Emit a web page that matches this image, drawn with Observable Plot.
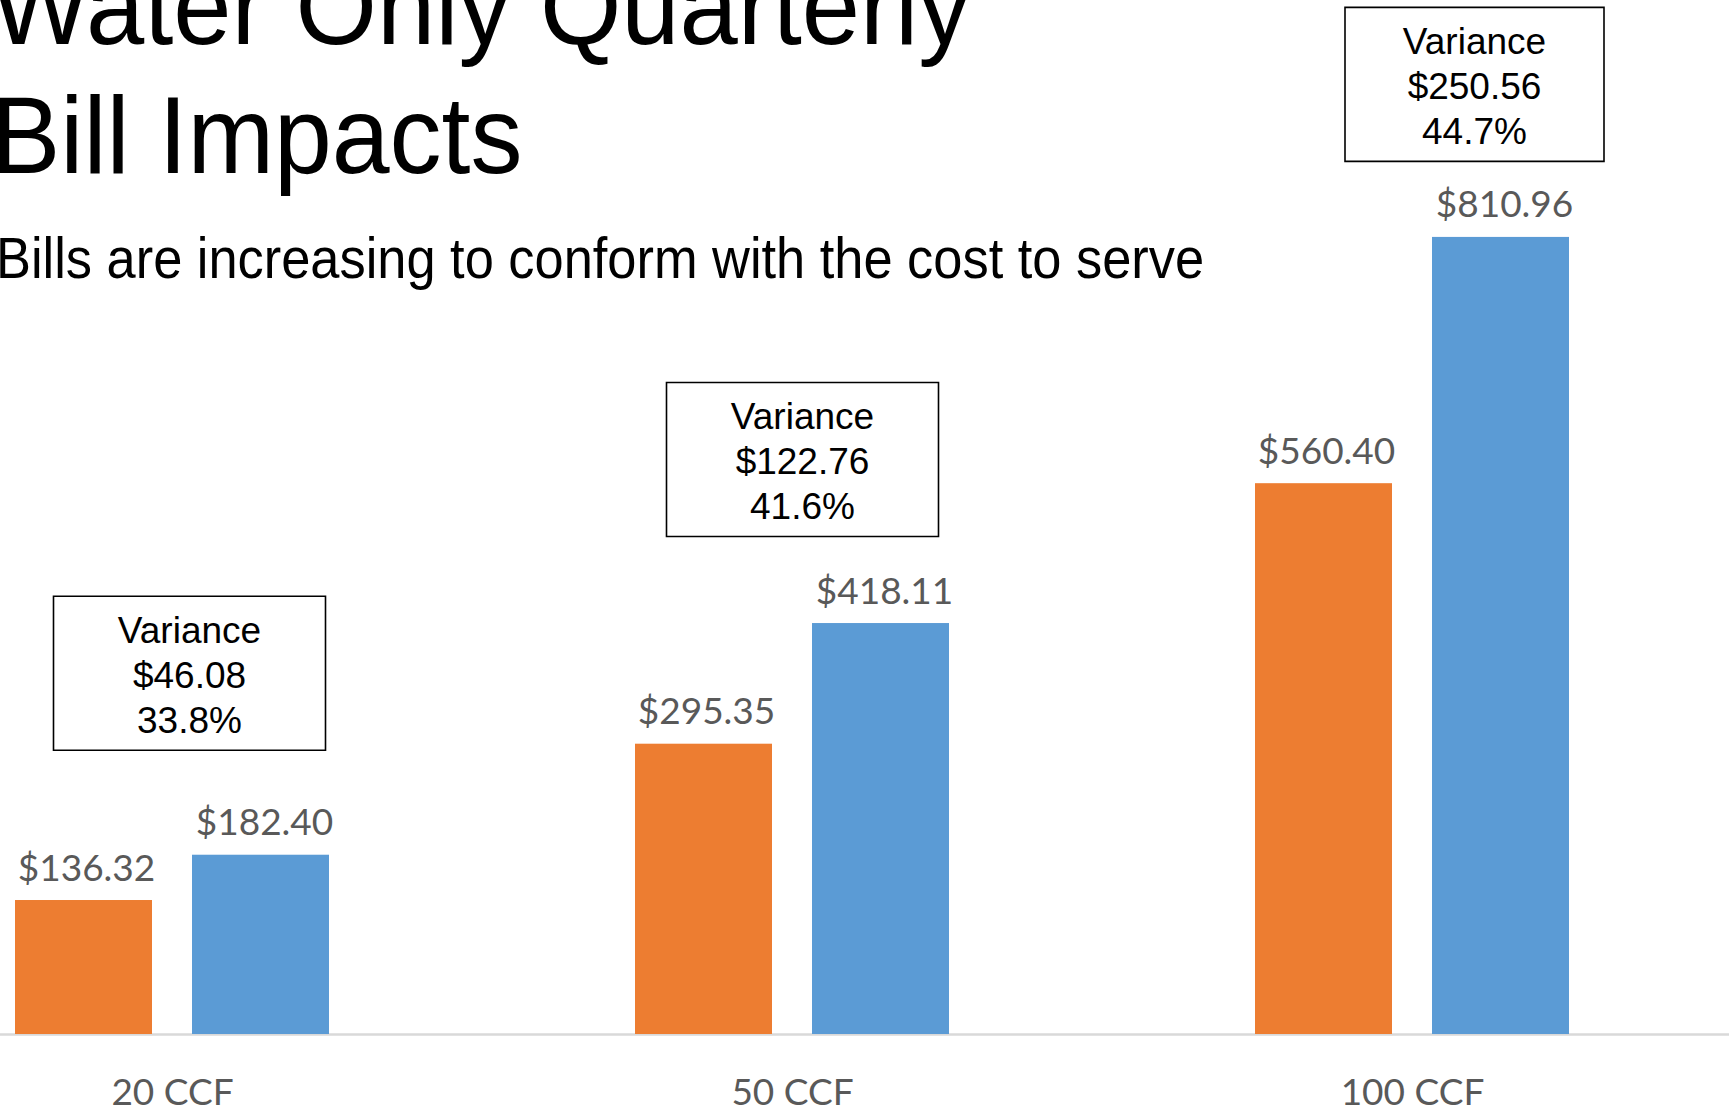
<!DOCTYPE html>
<html><head><meta charset="utf-8">
<script src="https://cdn.jsdelivr.net/npm/d3@7"></script>
<script src="https://cdn.jsdelivr.net/npm/@observablehq/plot@0.6"></script>
<style>
body{margin:0;background:#fff;overflow:hidden}
#wrap{position:relative;width:1729px;height:1110px;overflow:hidden;background:#fff}
#chart{position:absolute;left:0;top:0}
.t{position:absolute;white-space:nowrap;font-family:'Liberation Sans',Arial,sans-serif;color:#000;transform-origin:0 0;line-height:1}
#t1{left:-9px;top:-49px;font-size:110px;transform:scaleX(0.952)}
#t2{left:-9px;top:80px;font-size:110px;transform:scaleX(0.945)}
#t3{left:-4px;top:229px;font-size:58px;transform:scaleX(0.903)}
</style></head><body>
<div id="wrap">
<div id="chart"></div>
<div class="t" id="t1">Water Only Quarterly</div>
<div class="t" id="t2">Bill Impacts</div>
<div class="t" id="t3">Bills are increasing to conform with the cost to serve</div>
</div>
<script>
const categories = ["20 CCF", "50 CCF", "100 CCF"];
const currentBill = [136.32, 295.35, 560.40];
const proposedBill = [182.40, 418.11, 810.96];
const varianceDollar = ["$46.08", "$122.76", "$250.56"];
const variancePercent = ["33.8%", "41.6%", "44.7%"];

const rows = categories.map((c, i) => ({
  category: c,
  current: currentBill[i],
  proposed: proposedBill[i],
  note: "Variance\n" + varianceDollar[i] + "\n" + variancePercent[i]
}));
const fmt = v => "$" + v.toFixed(2);

const ORANGE = "#ED7D31", BLUE = "#5B9BD5", LABEL = "#595959";
const valueFont = "Lato, 'Open Sans', sans-serif";
const boxFont = "'Liberation Sans', Arial, sans-serif";

// annotation box placement (pixels, relative to category center / proposed bar top)
const boxStyle = [
  {dx: 17, dy: -182, w: 272, h: 154},
  {dx: 10, dy: -164, w: 272, h: 154},
  {dx: 62, dy: -153, w: 259, h: 154}
];
const rectSymbol = (w, h) => ({draw(ctx) { ctx.rect(-w / 2, -h / 2, w, h); }});

const annotationMarks = rows.flatMap((r, i) => {
  const s = boxStyle[i];
  return [
    Plot.dot([r], {x: "category", y: "proposed", dx: s.dx, dy: s.dy, symbol: rectSymbol(s.w, s.h), r: 10, fill: "white", stroke: "#000", strokeWidth: 1.6}),
    Plot.text([r], {x: "category", y: "proposed", dx: s.dx, dy: s.dy, text: "note", lineAnchor: "middle", lineHeight: 1.22, fontSize: 37, fontFamily: boxFont, fill: "#000"})
  ];
});

const chart = Plot.plot({
  width: 1729,
  height: 1110,
  marginTop: 0,
  marginLeft: 0,
  marginRight: 0,
  marginBottom: 76,
  style: {background: "white", overflow: "visible"},
  x: {domain: categories, range: [-139, 1723], paddingInner: 0.493, paddingOuter: 0.2465, axis: null},
  y: {domain: [0, 1052], axis: null},
  marks: [
    Plot.ruleY([0], {stroke: "#d9d9d9", strokeWidth: 2.5}),
    Plot.barY(rows, {x: "category", y: "current", fill: ORANGE, insetRight: 177}),
    Plot.barY(rows, {x: "category", y: "proposed", fill: BLUE, insetLeft: 177}),
    Plot.text(rows, {x: "category", y: "current", text: d => fmt(d.current), dx: -86, dy: -20, lineAnchor: "bottom", fontSize: 37, fontFamily: valueFont, fill: LABEL}),
    Plot.text(rows, {x: "category", y: "proposed", text: d => fmt(d.proposed), dx: 92, dy: -20, lineAnchor: "bottom", fontSize: 37, fontFamily: valueFont, fill: LABEL}),
    Plot.text(rows, {x: "category", frameAnchor: "bottom", text: "category", dy: 70, lineAnchor: "bottom", fontSize: 37, fontFamily: valueFont, fill: LABEL}),
    ...annotationMarks
  ]
});
document.getElementById("chart").appendChild(chart);
</script>
</body></html>
